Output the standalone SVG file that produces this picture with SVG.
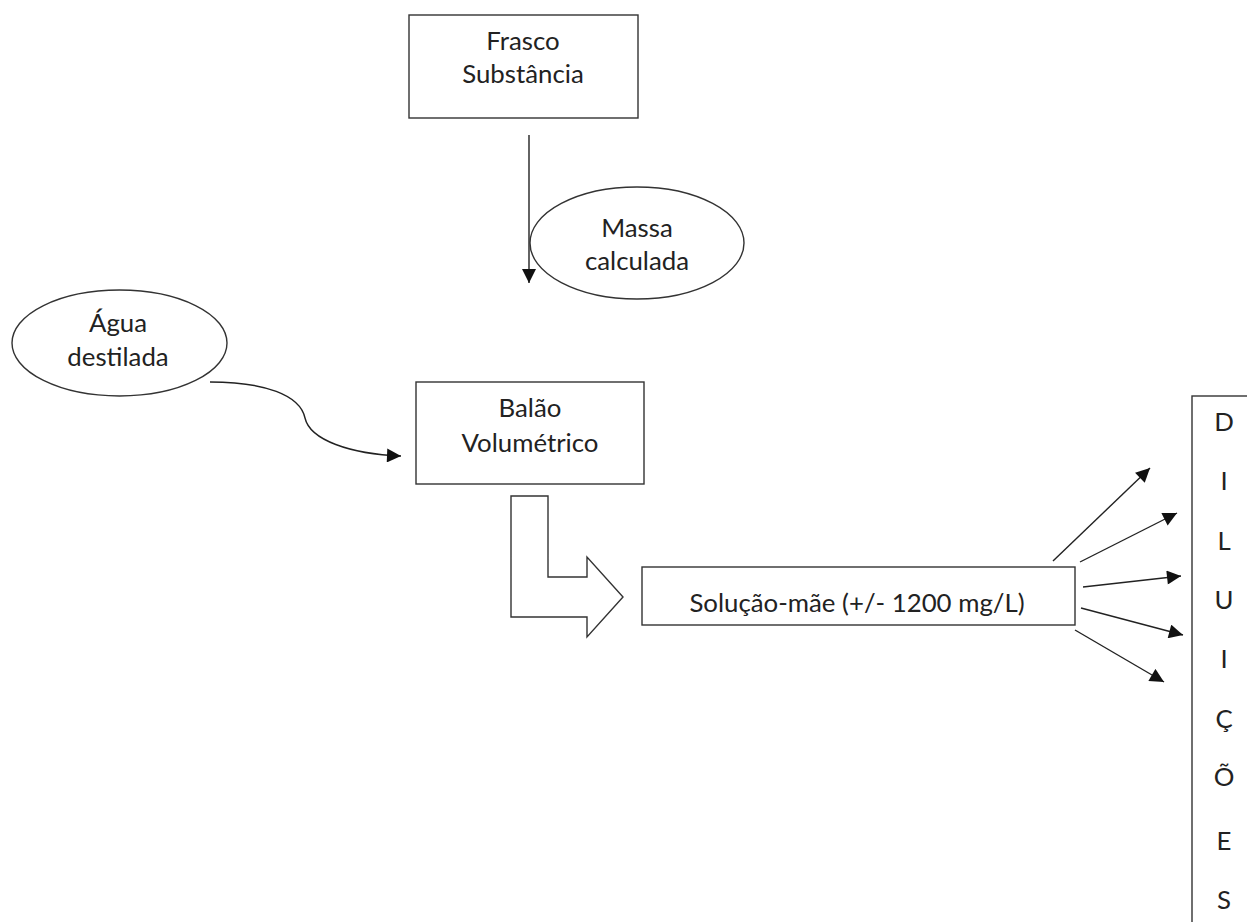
<svg xmlns="http://www.w3.org/2000/svg" width="1247" height="922" viewBox="0 0 1247 922">
<style>
.box{fill:#fff;stroke:#333;stroke-width:1.4}
.ell{fill:#fff;stroke:#333;stroke-width:1.4}
.t{font-family:Lato,"Liberation Sans",sans-serif;font-size:25.8px;fill:#222;text-anchor:middle}
.ln{fill:none;stroke:#222;stroke-width:1.4}
</style>
<defs>
<marker id="ah" viewBox="0 0 10 10" refX="10" refY="5" markerWidth="15" markerHeight="14" markerUnits="userSpaceOnUse" orient="auto">
<path d="M0,0 L10,5 L0,10 Z" fill="#111"/>
</marker>
</defs>
<rect width="1247" height="922" fill="#fff"/>
<g id="connectors">
<line class="ln" x1="529" y1="135" x2="529" y2="283" marker-end="url(#ah)"/>
<path class="ln" d="M210,382 C265,382 300,395 305,418 C310,440 350,454 401,456" marker-end="url(#ah)"/>
<polygon id="bent-arrow" class="box" points="511,496 548,496 548,577 587,577 587,557 623,597 587,637 587,617 511,617"/>
<line class="ln" x1="1053" y1="561" x2="1150" y2="468" marker-end="url(#ah)"/>
<line class="ln" x1="1080" y1="562" x2="1177" y2="513" marker-end="url(#ah)"/>
<line class="ln" x1="1083" y1="587" x2="1181" y2="576" marker-end="url(#ah)"/>
<line class="ln" x1="1081" y1="608" x2="1183" y2="635" marker-end="url(#ah)"/>
<line class="ln" x1="1075" y1="630" x2="1164" y2="682" marker-end="url(#ah)"/>
</g>
<g id="frasco">
<rect class="box" x="409" y="15" width="229" height="103"/>
<text class="t" x="523" y="50">Frasco</text>
<text class="t" x="523" y="83">Substância</text>
</g>
<g id="massa">
<ellipse class="ell" cx="637" cy="243" rx="107" ry="56"/>
<text class="t" x="637" y="237">Massa</text>
<text class="t" x="637" y="270">calculada</text>
</g>
<g id="agua">
<ellipse class="ell" cx="119.5" cy="343" rx="107.5" ry="53"/>
<text class="t" x="118" y="332">Água</text>
<text class="t" x="118" y="366">destilada</text>
</g>
<g id="balao">
<rect class="box" x="416" y="382" width="228" height="102"/>
<text class="t" x="530" y="417">Balão</text>
<text class="t" x="530" y="452">Volumétrico</text>
</g>
<g id="solucao">
<rect class="box" x="642" y="567" width="433" height="58"/>
<text class="t" x="857" y="612">Solução-mãe (+/- 1200 mg/L)</text>
</g>
<g id="diluicoes">
<rect class="box" x="1192" y="396" width="70" height="540"/>
<text class="t" x="1224" y="431">D</text>
<text class="t" x="1224" y="490">I</text>
<text class="t" x="1224" y="550">L</text>
<text class="t" x="1224" y="609">U</text>
<text class="t" x="1224" y="668">I</text>
<text class="t" x="1224" y="728">Ç</text>
<text class="t" x="1224" y="786">Õ</text>
<text class="t" x="1224" y="850">E</text>
<text class="t" x="1224" y="909">S</text>
</g>
</svg>
